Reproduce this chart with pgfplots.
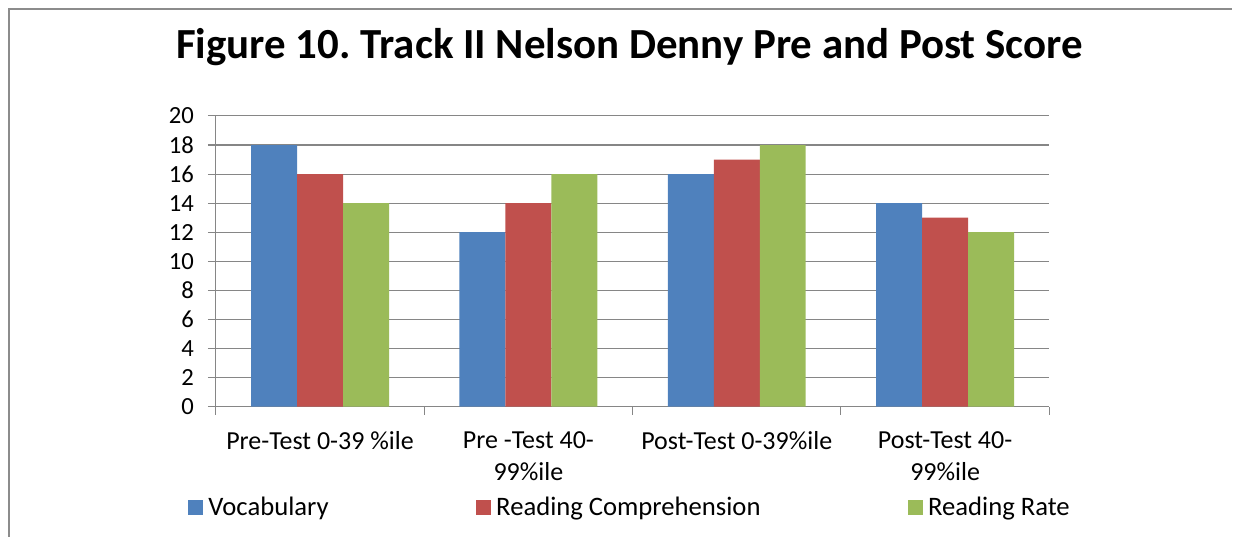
\documentclass[border=0pt]{standalone}
\usepackage{pgfplots}
\pgfplotsset{compat=1.18}
\usepackage{fontspec}
\setmainfont{Carlito}
\definecolor{xlblue}{HTML}{4F81BD}
\definecolor{xlred}{HTML}{C0504D}
\definecolor{xlgreen}{HTML}{9BBB59}
\definecolor{gridgray}{HTML}{868686}
\definecolor{framegray}{HTML}{8C8C8C}

\begin{document}
\frenchspacing
\begin{tikzpicture}
% page size and the cut frame
\path (0pt,0pt) rectangle (924.75pt,402.75pt);
\draw[framegray, line width=1.2pt] (6.75pt,0pt) -- (6.75pt,396pt) -- (924.75pt,396pt);
\node[anchor=base, font=\bfseries\fontsize{32.2}{38}\selectfont] at (472.5pt,359pt)
  {Figure 10. Track II Nelson Denny Pre and Post Score};

\begin{axis}[
    at={(162pt,97.5pt)}, anchor=south west,
    scale only axis,
    width=625.5pt, height=218.25pt,
    ybar=0pt, bar width=34.5pt,
    xmin=-0.5, xmax=3.5,
    ymin=0, ymax=20,
    ytick={0,2,...,20},
    xtick={0,1,2,3},
    xticklabels={Pre-Test 0-39 \%ile, {Pre -Test 40-\\99\%ile}, Post-Test 0-39\%ile, {Post-Test 40-\\99\%ile}},
    minor xtick={-0.5,0.5,1.5,2.5,3.5},
    major x tick style={draw=none},
    tick align=outside,
    major tick length=6pt, minor tick length=6pt,
    axis x line*=bottom, axis y line*=left,
    axis line style={gridgray, line width=0.8pt, -},
    every tick/.style={gridgray, line width=0.8pt},
    ymajorgrids, major grid style={gridgray, line width=0.8pt},
    yticklabel style={font=\fontsize{18.5}{22}\selectfont, xshift=-7pt},
    xticklabel style={font=\fontsize{19.5}{24}\selectfont, align=center, yshift=-9pt},
    /pgf/number format/assume math mode=true,
    legend columns=3,
    legend style={at={(-0.0336,-0.347)}, anchor=west, draw=none, fill=none,
        font=\fontsize{20}{22}\selectfont, inner sep=0pt,
        /tikz/every odd column/.append style={column sep=2pt},
        /tikz/every even column/.append style={column sep=108.5pt}},
    legend image code/.code={\fill[#1] (0pt,-5.6pt) rectangle (11.25pt,5.6pt);},
]
\addplot[fill=xlblue, draw=none] coordinates {(0,18) (1,12) (2,16) (3,14)};
\addplot[fill=xlred, draw=none] coordinates {(0,16) (1,14) (2,17) (3,13)};
\addplot[fill=xlgreen, draw=none] coordinates {(0,14) (1,16) (2,18) (3,12)};
\legend{Vocabulary, Reading Comprehension, Reading Rate}
\end{axis}
\end{tikzpicture}
\end{document}
